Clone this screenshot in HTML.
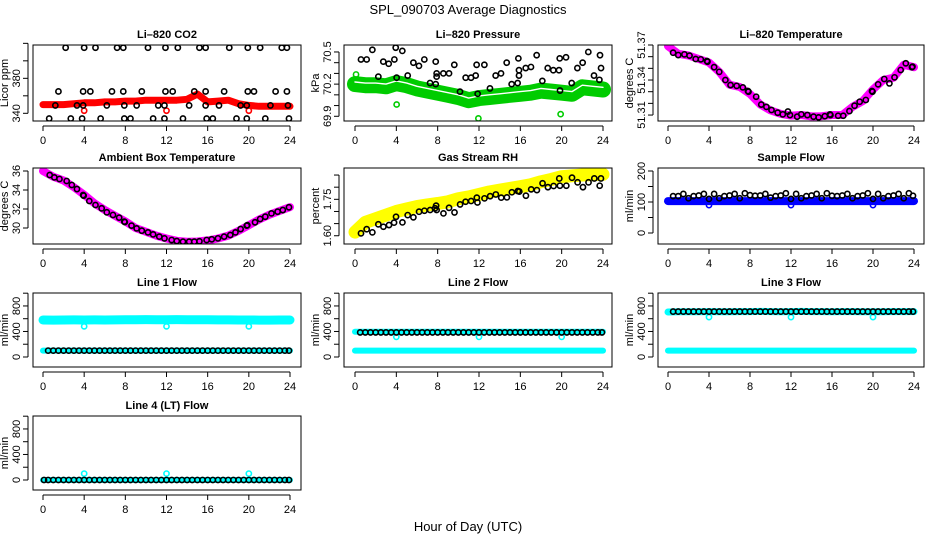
<!DOCTYPE html>
<html><head><meta charset="utf-8">
<style>
html,body{margin:0;padding:0;background:#fff;}
svg{display:block;font-family:"Liberation Sans",Arial,sans-serif;}
</style></head>
<body>
<svg id="chart" width="936" height="540" viewBox="0 0 936 540">
<text x="468" y="14" text-anchor="middle" font-size="13">SPL_090703  Average Diagnostics</text>
<text x="468" y="531" text-anchor="middle" font-size="13">Hour of Day (UTC)</text>
</svg>
<script>
// ---------- shared ----------
const xTicks = [0,4,8,12,16,20,24];
const hours = [0,1,2,3,4,5,6,7,8,9,10,11,12,13,14,15,16,17,18,19,20,21,22,23,24];
const halfHours = [0.5,1,1.5,2,2.5,3,3.5,4,4.5,5,5.5,6,6.5,7,7.5,8,8.5,9,9.5,10,10.5,11,11.5,12,12.5,13,13.5,14,14.5,15,15.5,16,16.5,17,17.5,18,18.5,19,19.5,20,20.5,21,21.5,22,22.5,23,23.5,23.9];
const outlierHours = [4,12,20];

// ---------- CO2 ----------
const co2Band = [350,350,350,351,352,352,353,353,354,354,355,355,355,355,356,362,353,354,355,351,349,348,348,348,348];
const co2BlackT = [2.2,4.0,5.1,7.2,7.8,10.2,11.9,13.1,15.2,15.8,18.1,19.9,21.1,23.2,23.7, 1.5,3.9,4.6,6.7,7.8,9.6,11.9,12.6,14.7,15.8,17.6,19.9,20.5,22.6,23.7, 1.2,3.3,3.9,6.2,7.9,9.1,11.2,11.8,14.2,15.8,17.1,19.2,19.8,22.1,23.8, 0.6,2.7,3.8,5.6,7.9,8.5,10.7,11.8,13.6,15.9,16.5,18.8,19.8,21.6,23.9];
const co2BlackV = [415,415,415,415,415,415,415,415,415,415,415,415,415,415,415, 365,365,365,365,365,365,365,365,365,365,365,365,365,365,365, 349,349,349,349,349,349,349,349,349,349,349,349,349,349,349, 334,334,334,334,334,334,334,334,334,334,334,334,334,334,334];
const co2RedOut = [343,343,343];

// ---------- Pressure ----------
const presBand = [70.20,70.19,70.19,70.18,70.21,70.19,70.16,70.14,70.12,70.10,70.08,70.05,70.07,70.08,70.09,70.10,70.11,70.12,70.14,70.13,70.12,70.11,70.17,70.16,70.15];
const presBlackT = [0.58,1.13,1.68,2.26,2.74,3.26,3.81,3.94,4.03,4.58,5.10,5.65,6.19,6.71,7.26,7.81,7.81,7.90,7.90,8.55,9.10,9.61,10.16,10.71,11.23,11.68,11.77,11.87,12.52,13.06,13.61,14.13,14.68,15.16,15.74,15.81,15.87,15.87,16.52,17.03,17.58,18.13,18.65,19.19,19.74,19.81,19.84,20.42,20.97,21.52,22.03,22.58,23.13,23.65,23.71,23.81];
const presBlackV = [70.43,70.43,70.52,70.27,70.41,70.39,70.43,70.54,70.26,70.51,70.28,70.40,70.37,70.43,70.21,70.41,70.20,70.30,70.27,70.30,70.30,70.38,70.13,70.26,70.26,70.28,70.38,70.11,70.38,70.16,70.28,70.30,70.40,70.20,70.21,70.44,70.28,70.33,70.35,70.36,70.47,70.23,70.35,70.33,70.33,70.44,70.14,70.45,70.21,70.35,70.40,70.50,70.28,70.24,70.47,70.35];
const presGreenOutT = [0.1,4.03,11.94,19.9];
const presGreenOutV = [70.29,70.01,69.88,69.92];

// ---------- Li-820 Temperature ----------
const tempBand = [51.369,51.3625,51.361,51.358,51.355,51.347,51.336,51.334,51.328,51.319,51.314,51.311,51.3095,51.310,51.3088,51.309,51.310,51.310,51.317,51.322,51.332,51.340,51.342,51.353,51.351];
const tempBlackT = [0.5,1.0,1.6,2.1,2.7,3.2,3.8,3.85,4.5,5.0,5.6,6.1,6.7,7.3,7.8,7.85,8.6,9.1,9.6,10.1,10.7,11.2,11.7,11.9,12.6,13.0,13.6,14.2,14.7,15.3,15.8,15.85,16.6,17.1,17.7,18.2,18.7,19.3,19.9,19.95,20.5,21.1,21.6,22.1,22.7,23.2,23.8,23.85];
const tempBlackV = [51.3634,51.3614,51.362,51.3609,51.358,51.3577,51.3563,51.3557,51.351,51.347,51.340,51.3357,51.335,51.3337,51.3306,51.330,51.3257,51.319,51.317,51.3143,51.312,51.3106,51.313,51.310,51.3086,51.3106,51.310,51.3086,51.308,51.309,51.3106,51.3100,51.3094,51.3094,51.3134,51.318,51.3214,51.3229,51.3306,51.3300,51.3363,51.3409,51.3371,51.3423,51.3486,51.3543,51.351,51.3515];

// ---------- Ambient ----------
const ambBand = [36.0,35.4,35.0,34.3,33.5,32.6,31.9,31.3,30.7,30.0,29.6,29.2,28.9,28.65,28.56,28.58,28.7,28.9,29.2,29.7,30.3,30.9,31.4,31.8,32.2];
const ambBlackT = [0.65,1.1,1.6,2.3,2.8,3.3,3.9,3.95,4.5,5.1,5.7,6.2,6.8,7.4,7.9,7.95,8.6,9.1,9.6,10.2,10.7,11.3,11.8,12.5,13.0,13.6,14.2,14.7,15.2,15.9,16.4,17.0,17.6,18.2,18.7,19.2,19.8,19.85,20.6,21.1,21.6,22.2,22.8,23.3,23.9];
const ambBlackV = [35.58,35.33,35.16,34.95,34.53,34.1,33.47,33.40,32.84,32.42,32.07,31.65,31.37,31.09,30.67,30.62,30.25,29.96,29.72,29.54,29.33,29.09,28.91,28.74,28.63,28.56,28.56,28.56,28.6,28.74,28.81,28.91,29.09,29.26,29.54,29.89,30.25,30.30,30.6,30.95,31.19,31.54,31.72,31.89,32.18];

// ---------- Gas Stream RH ----------
const rhBand = [1.615,1.655,1.67,1.685,1.70,1.71,1.72,1.727,1.733,1.74,1.752,1.76,1.77,1.78,1.788,1.795,1.802,1.81,1.822,1.832,1.843,1.847,1.85,1.852,1.853];
const rhBlackT = [0.58,1.13,1.68,2.26,2.75,3.29,3.78,3.97,4.59,5.1,5.65,6.2,6.72,7.27,7.75,7.85,7.9,8.56,9.1,9.63,10.17,10.7,11.24,11.79,11.85,12.53,13.08,13.63,14.15,14.7,15.18,15.76,15.9,16.54,17.05,17.6,18.15,18.67,19.22,19.77,19.83,20.45,21.0,21.54,22.06,22.6,23.16,23.68,23.8];
const rhBlackV = [1.61,1.627,1.614,1.647,1.637,1.644,1.654,1.678,1.655,1.685,1.676,1.699,1.703,1.706,1.713,1.724,1.706,1.692,1.715,1.696,1.729,1.74,1.743,1.757,1.737,1.754,1.763,1.77,1.757,1.758,1.779,1.784,1.782,1.765,1.791,1.788,1.816,1.80,1.805,1.836,1.806,1.806,1.839,1.82,1.80,1.82,1.836,1.806,1.836];

// ---------- Sample Flow ----------
const sfBand = [103,103,103,103,103,103,103,103,103,103,103,103,103,103,103,103,103,103,103,103,103,103,103,103,103];
const sfBlackV = [119,119,126,112,119,121,126,110,126,112,119,121,126,112,128,122,120,121,126,114,119,121,128,110,126,112,119,121,126,112,128,120,119,121,126,112,119,121,128,110,126,112,119,121,126,112,128,120];
const sfBlueOut = [90,90,90];

// ---------- Line flows ----------
const l1CyanHigh = [580,578,580,582,579,581,580,582,583,585,586,585,584,586,585,584,583,582,581,580,579,578,578,579,580];
const l1CyanLow = [100,100,100,100,100,100,100,100,100,100,100,100,100,100,100,100,100,100,100,100,100,100,100,100,100];
const l1Black = [100,100,100,100,100,100,100,100,100,100,100,100,100,100,100,100,100,100,100,100,100,100,100,100,100,100,100,100,100,100,100,100,100,100,100,100,100,100,100,100,100,100,100,100,100,100,100,100];
const l1CyanOut = [480,480,480];
const l2CyanHigh = [395,395,395,395,395,395,395,395,395,395,395,395,395,395,395,395,395,395,395,395,395,395,395,395,395];
const l2CyanLow = [100,100,100,100,100,100,100,100,100,100,100,100,100,100,100,100,100,100,100,100,100,100,100,100,100];
const l2Black = [385,385,385,385,385,385,385,385,385,385,385,385,385,385,385,385,385,385,385,385,385,385,385,385,385,385,385,385,385,385,385,385,385,385,385,385,385,385,385,385,385,385,385,385,385,385,385,385];
const l2CyanOut = [315,315,315];
const l3CyanHigh = [705,708,710,710,712,710,710,712,712,714,712,710,712,714,712,712,710,712,712,710,710,710,712,712,712];
const l3CyanLow = [100,100,100,100,100,100,100,100,100,100,100,100,100,100,100,100,100,100,100,100,100,100,100,100,100];
const l3Black = [712,712,712,712,712,712,712,712,712,712,712,712,712,712,712,712,712,712,712,712,712,712,712,712,712,712,712,712,712,712,712,712,712,712,712,712,712,712,712,712,712,712,712,712,712,712,712,712];
const l3CyanOut = [625,625,625];
const l4Cyan = [0,0,0,0,0,0,0,0,0,0,0,0,0,0,0,0,0,0,0,0,0,0,0,0,0];
const l4Black = [0,0,0,0,0,0,0,0,0,0,0,0,0,0,0,0,0,0,0,0,0,0,0,0,0,0,0,0,0,0,0,0,0,0,0,0,0,0,0,0,0,0,0,0,0,0,0,0,0];
const l4CyanOut = [100,100,100];

const flowTicks = [0,200,400,600,800,1000];
const flowLabels = [0,400,800];

const svg = document.getElementById('chart');
const NS = 'http://www.w3.org/2000/svg';
function el(tag, attrs, parent){
  const e = document.createElementNS(NS, tag);
  for (const k in attrs) e.setAttribute(k, attrs[k]);
  (parent||svg).appendChild(e);
  return e;
}
const cols = [
  {left:33, right:301, x0:43, x24:290},
  {left:344, right:612, x0:355, x24:603},
  {left:658, right:924, x0:668, x24:914}
];
const rows = [{top:45,bottom:121},{top:168,bottom:244},{top:293,bottom:367},{top:416,bottom:490}];

function panel(name, title, ylab, c, r, yTop, yBot, yTicks, yLabels, fmt){
  const C = cols[c], R = rows[r];
  const g = el('g', {});
  
  
  const xs = t => C.x0 + (C.x24 - C.x0) * t / 24;
  const ys = v => R.top + (yTop - v) / (yTop - yBot) * (R.bottom - R.top);
  const plot = el('g', {}, g);
  
  
  const clipId = 'clip-' + name;
  const cp = el('clipPath', {id: clipId}, g);
  el('rect', {x: C.left, y: R.top, width: C.right - C.left, height: R.bottom - R.top}, cp);
  plot.setAttribute('clip-path', 'url(#' + clipId + ')');
  // frame
  const fr = el('rect', {x: C.left, y: R.top, width: C.right - C.left, height: R.bottom - R.top, fill: 'none', stroke: '#000', 'stroke-width': 1}, g);
  
  
  // title
  const tt = el('text', {x: (C.left + C.right) / 2, y: R.top - 7, 'text-anchor': 'middle', 'font-size': 11, 'font-weight': 'bold'}, g);
  tt.textContent = title;
  
  
  // x axis
  const xa = el('g', {}, g);
  
  
  el('line', {x1: xs(0), x2: xs(24), y1: R.bottom + 5, y2: R.bottom + 5, stroke: '#000'}, xa);
  xTicks.forEach(t => {
    el('line', {x1: xs(t), x2: xs(t), y1: R.bottom + 5, y2: R.bottom + 10, stroke: '#000'}, xa);
    const lt = el('text', {x: xs(t), y: R.bottom + 23, 'text-anchor': 'middle', 'font-size': 11}, xa);
    lt.textContent = t;
  });
  // y axis
  const ya = el('g', {}, g);
  
  
  const ax = C.left - 5;
  el('line', {x1: ax, x2: ax, y1: ys(yTicks[0]), y2: ys(yTicks[yTicks.length - 1]), stroke: '#000'}, ya);
  yTicks.forEach(v => {
    el('line', {x1: ax - 5, x2: ax, y1: ys(v), y2: ys(v), stroke: '#000'}, ya);
  });
  yLabels.forEach(v => {
    const lx = C.left - 13, ly = ys(v);
    const lt = el('text', {x: lx, y: ly, 'text-anchor': 'middle', 'font-size': 11, transform: 'rotate(-90 ' + lx + ' ' + ly + ')'}, ya);
    lt.textContent = fmt ? fmt(v) : v;
  });
  const yl = el('text', {x: C.left - 25, y: (R.top + R.bottom) / 2, 'text-anchor': 'middle', 'font-size': 11, transform: 'rotate(-90 ' + (C.left - 25) + ' ' + ((R.top + R.bottom) / 2) + ')'}, g);
  yl.textContent = ylab;
  
  
  return {plot, xs, ys, name};
}
function band(P, ts, vs, color, w, label){
  const pts = ts.map((t, i) => P.xs(t).toFixed(1) + ',' + P.ys(vs[i]).toFixed(1)).join(' ');
  const pl = el('polyline', {points: pts, fill: 'none', stroke: color, 'stroke-width': w, 'stroke-linejoin': 'round', 'stroke-linecap': 'round'}, P.plot);
  
  
  return pl;
}
function pts(P, ts, vs, color, label, sw){
  const g = el('g', {}, P.plot);
  
  
  ts.forEach((t, i) => {
    el('circle', {cx: P.xs(t), cy: P.ys(vs[i]), r: 2.6, fill: 'none', stroke: color, 'stroke-width': sw || 1.6}, g);
  });
}

// CO2
let P = panel('co2', 'Li\u2013820 CO2', 'Licor ppm', 0, 0, 418.1, 331.2, [340,360,380,400,420], [340,380]);
band(P, hours, co2Band, '#ff0000', 7, 'red-band');
pts(P, outlierHours, co2RedOut, '#ff0000', 'red-outliers');
pts(P, co2BlackT, co2BlackV, '#000', 'black-points');

// Pressure
P = panel('pressure', 'Li\u2013820 Pressure', 'kPa', 1, 0, 70.565, 69.856, [69.9,70.0,70.1,70.2,70.3,70.4,70.5], [69.9,70.2,70.5], v => v.toFixed(1));
band(P, hours, presBand, '#00cc00', 16, 'green-band');
const wl = band(P, hours, presBand.map(v => v + 0.02), '#ffffff', 1.4, 'band-gap');
pts(P, presGreenOutT, presGreenOutV, '#00cc00', 'green-outliers');
pts(P, presBlackT, presBlackV, '#000', 'black-points');

// Li-820 Temperature
P = panel('li820-temp', 'Li\u2013820 Temperature', 'degrees C', 2, 0, 51.37, 51.3049, [51.31,51.32,51.33,51.34,51.35,51.36,51.37], [51.31,51.34,51.37], v => v.toFixed(2));
band(P, hours, tempBand, '#ff00ff', 8, 'magenta-band');
pts(P, tempBlackT, tempBlackV, '#000', 'black-points');

// Ambient
P = panel('ambient', 'Ambient Box Temperature', 'degrees C', 0, 1, 36.316, 28.316, [30,32,34,36], [30,32,34,36]);
band(P, hours, ambBand, '#ff00ff', 8, 'magenta-band');
pts(P, ambBlackT, ambBlackV, '#000', 'black-points');

// RH
P = panel('rh', 'Gas Stream RH', 'percent', 1, 1, 1.879, 1.566, [1.60,1.65,1.70,1.75,1.80,1.85], [1.60,1.75], v => v.toFixed(2));
band(P, hours, rhBand, '#ffff00', 13, 'yellow-band');
pts(P, rhBlackT, rhBlackV, '#000', 'black-points');

// Sample flow
P = panel('sample-flow', 'Sample Flow', 'ml/min', 2, 1, 209.7, -35.5, [0,50,100,150,200], [0,100,200]);
band(P, hours, sfBand, '#0000ff', 8, 'blue-band');
pts(P, outlierHours, sfBlueOut, '#0000ff', 'blue-outliers');
pts(P, halfHours, sfBlackV, '#000', 'black-points');

// Line 1
P = panel('line1-flow', 'Line 1 Flow', 'ml/min', 0, 2, 1003, -157, flowTicks, flowLabels);
band(P, hours, l1CyanHigh, '#00ffff', 9, 'cyan-high-band');
band(P, hours, l1CyanLow, '#00ffff', 6, 'cyan-low-band');
pts(P, outlierHours, l1CyanOut, '#00ffff', 'cyan-outliers');
pts(P, halfHours, l1Black, '#000', 'black-points');

// Line 2
P = panel('line2-flow', 'Line 2 Flow', 'ml/min', 1, 2, 1003, -157, flowTicks, flowLabels);
band(P, hours, l2CyanHigh, '#00ffff', 6, 'cyan-high-band');
band(P, hours, l2CyanLow, '#00ffff', 6, 'cyan-low-band');
pts(P, outlierHours, l2CyanOut, '#00ffff', 'cyan-outliers');
pts(P, halfHours, l2Black, '#000', 'black-points');

// Line 3
P = panel('line3-flow', 'Line 3 Flow', 'ml/min', 2, 2, 1003, -157, flowTicks, flowLabels);
band(P, hours, l3CyanHigh, '#00ffff', 7, 'cyan-high-band');
band(P, hours, l3CyanLow, '#00ffff', 6, 'cyan-low-band');
pts(P, outlierHours, l3CyanOut, '#00ffff', 'cyan-outliers');
pts(P, halfHours, l3Black, '#000', 'black-points');

// Line 4
P = panel('line4-flow', 'Line 4 (LT) Flow', 'ml/min', 0, 3, 1003, -157, flowTicks, flowLabels);
band(P, hours, l4Cyan, '#00ffff', 6, 'cyan-band');
pts(P, outlierHours, l4CyanOut, '#00ffff', 'cyan-outliers');
pts(P, [0.1].concat(halfHours), l4Black, '#000', 'black-points');
</script>
</body></html>
